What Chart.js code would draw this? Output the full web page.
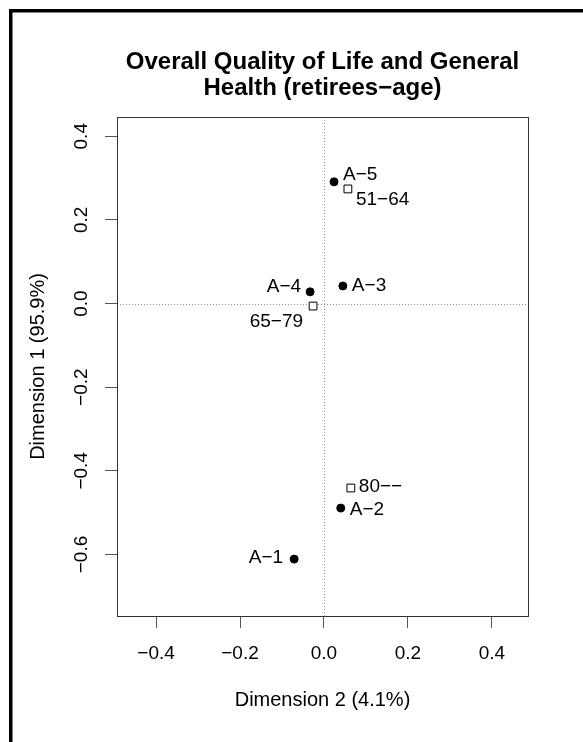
<!DOCTYPE html>
<html>
<head>
<meta charset="utf-8">
<script src="https://cdn.jsdelivr.net/npm/chart.js@4/dist/chart.umd.min.js"></script>
<style>
  html, body { margin: 0; padding: 0; background: #ffffff; }
  #wrap { width: 583px; height: 742px; position: relative; }
</style>
</head>
<body>
<div id="wrap"><canvas id="c" width="583" height="742"></canvas></div>
<script>
// ---- data ----
const chartTitle = ['Overall Quality of Life and General', 'Health (retirees\u2212age)'];
const xAxisTitle = 'Dimension 2 (4.1%)';
const yAxisTitle = 'Dimension 1 (95.9%)';
const xTicks = [-0.4, -0.2, 0.0, 0.2, 0.4];
const yTicks = [-0.6, -0.4, -0.2, 0.0, 0.2, 0.4];
const xRange = [-0.493, 0.486];
const yRange = [-0.747, 0.446];

const rowLabels = ['A\u22121', 'A\u22122', 'A\u22123', 'A\u22124', 'A\u22125'];
const rowDim2 = [-0.071, 0.040, 0.045, -0.033, 0.024];
const rowDim1 = [-0.611, -0.489, 0.042, 0.028, 0.291];

const colLabels = ['51\u221264', '65\u221279', '80\u2212\u2212'];
const colDim2 = [0.057, -0.026, 0.064];
const colDim1 = [0.274, -0.006, -0.441];

// label placement (styling: pixel offset from the marker and alignment)
const rowLabelPlacement = [[-11, -1, 'right'], [9, 2, 'left'], [9, 0, 'left'], [-9, -5, 'right'], [9, -7, 'left']];
const colLabelPlacement = [[8, 11, 'left'], [-10, 16, 'right'], [8, -1, 'left']];

const FONT = "'Liberation Sans', Arial, Helvetica, sans-serif";

const fmt = v => (v < 0 ? '\u2212' : '') + Math.abs(v).toFixed(1);

const framePlugin = {
  id: 'frame',
  beforeDraw(chart) {
    const ctx = chart.ctx;
    ctx.save();
    ctx.fillStyle = '#ffffff';
    ctx.fillRect(0, 0, chart.width, chart.height);
    ctx.fillStyle = '#000000';
    ctx.fillRect(9, 9, 3.5, chart.height - 9);
    ctx.fillRect(9, 9, chart.width - 9, 3.5);
    ctx.restore();
  },
  beforeDatasetsDraw(chart) {
    const ctx = chart.ctx;
    const a = chart.chartArea;
    const xs = chart.scales.x, ys = chart.scales.y;
    const x0 = Math.round(xs.getPixelForValue(0)) + 0.5;
    const y0 = Math.round(ys.getPixelForValue(0)) + 0.5;
    ctx.save();
    ctx.strokeStyle = '#8a8a8a';
    ctx.lineWidth = 1;
    ctx.setLineDash([1, 2]);
    ctx.beginPath();
    ctx.moveTo(x0, a.top); ctx.lineTo(x0, a.bottom);
    ctx.moveTo(a.left, y0); ctx.lineTo(a.right, y0);
    ctx.stroke();
    ctx.setLineDash([]);
    ctx.strokeStyle = '#333333';
    ctx.strokeRect(Math.round(a.left) + 0.5, Math.round(a.top) + 0.5,
                   Math.round(a.right - a.left), Math.round(a.bottom - a.top));
    ctx.restore();
  },
  afterDatasetsDraw(chart) {
    const ctx = chart.ctx;
    ctx.save();
    ctx.font = '19px ' + FONT;
    ctx.fillStyle = '#000000';
    ctx.textBaseline = 'middle';
    chart.data.datasets.forEach((ds, di) => {
      const meta = chart.getDatasetMeta(di);
      const place = ds.placement;
      meta.data.forEach((pt, i) => {
        const p = place[i];
        ctx.textAlign = p[2];
        ctx.fillText(ds.labels[i], pt.x + p[0], pt.y + p[1]);
      });
    });
    ctx.restore();
  }
};

new Chart(document.getElementById('c'), {
  type: 'scatter',
  data: {
    datasets: [
      {
        label: 'rows',
        labels: rowLabels,
        placement: rowLabelPlacement,
        data: rowDim2.map((x, i) => ({ x: x, y: rowDim1[i] })),
        pointStyle: 'circle',
        pointRadius: 4,
        pointHoverRadius: 4,
        backgroundColor: '#000000',
        borderColor: '#000000',
        borderWidth: 1
      },
      {
        label: 'cols',
        labels: colLabels,
        placement: colLabelPlacement,
        data: colDim2.map((x, i) => ({ x: x, y: colDim1[i] })),
        pointStyle: 'rect',
        pointRadius: 5.5,
        pointHoverRadius: 5.5,
        backgroundColor: '#ffffff',
        borderColor: '#000000',
        borderWidth: 1
      }
    ]
  },
  options: {
    responsive: false,
    animation: false,
    devicePixelRatio: 1,
    events: [],
    layout: { padding: { left: 0, right: 55, top: 0, bottom: 0 } },
    plugins: {
      legend: { display: false },
      tooltip: { enabled: false },
      title: {
        display: true,
        fullSize: false,
        text: chartTitle,
        color: '#000000',
        font: { family: FONT, size: 24, weight: 'bold', lineHeight: '26px' },
        padding: { top: 49, bottom: 16 }
      }
    },
    scales: {
      x: {
        type: 'linear',
        position: 'bottom',
        min: xRange[0],
        max: xRange[1],
        afterBuildTicks: s => { s.ticks = xTicks.map(v => ({ value: v })); },
        afterFit: s => { s.height = 126; },
        grid: { display: true, drawOnChartArea: false, drawTicks: true, tickLength: 12, tickColor: '#555555', color: '#555555' },
        border: { display: false },
        ticks: {
          color: '#000000',
          font: { family: FONT, size: 19 },
          padding: 14,
          maxRotation: 0,
          minRotation: 0,
          callback: v => fmt(v)
        },
        title: {
          display: true,
          text: xAxisTitle,
          color: '#000000',
          font: { family: FONT, size: 20, lineHeight: 1.2 },
          padding: { top: 0, bottom: 30 }
        }
      },
      y: {
        type: 'linear',
        position: 'left',
        min: yRange[0],
        max: yRange[1],
        afterBuildTicks: s => { s.ticks = yTicks.map(v => ({ value: v })); },
        afterFit: s => { s.width = 117; },
        grid: { display: true, drawOnChartArea: false, drawTicks: true, tickLength: 12, tickColor: '#555555', color: '#555555' },
        border: { display: false },
        ticks: {
          color: '#000000',
          font: { family: FONT, size: 19 },
          padding: 4,
          minRotation: 90,
          maxRotation: 90,
          crossAlign: 'center',
          callback: v => fmt(v)
        },
        title: {
          display: true,
          text: yAxisTitle,
          color: '#000000',
          font: { family: FONT, size: 20, lineHeight: 1.2 },
          padding: { top: 26, bottom: 0 }
        }
      }
    }
  },
  plugins: [framePlugin]
});
</script>
</body>
</html>
